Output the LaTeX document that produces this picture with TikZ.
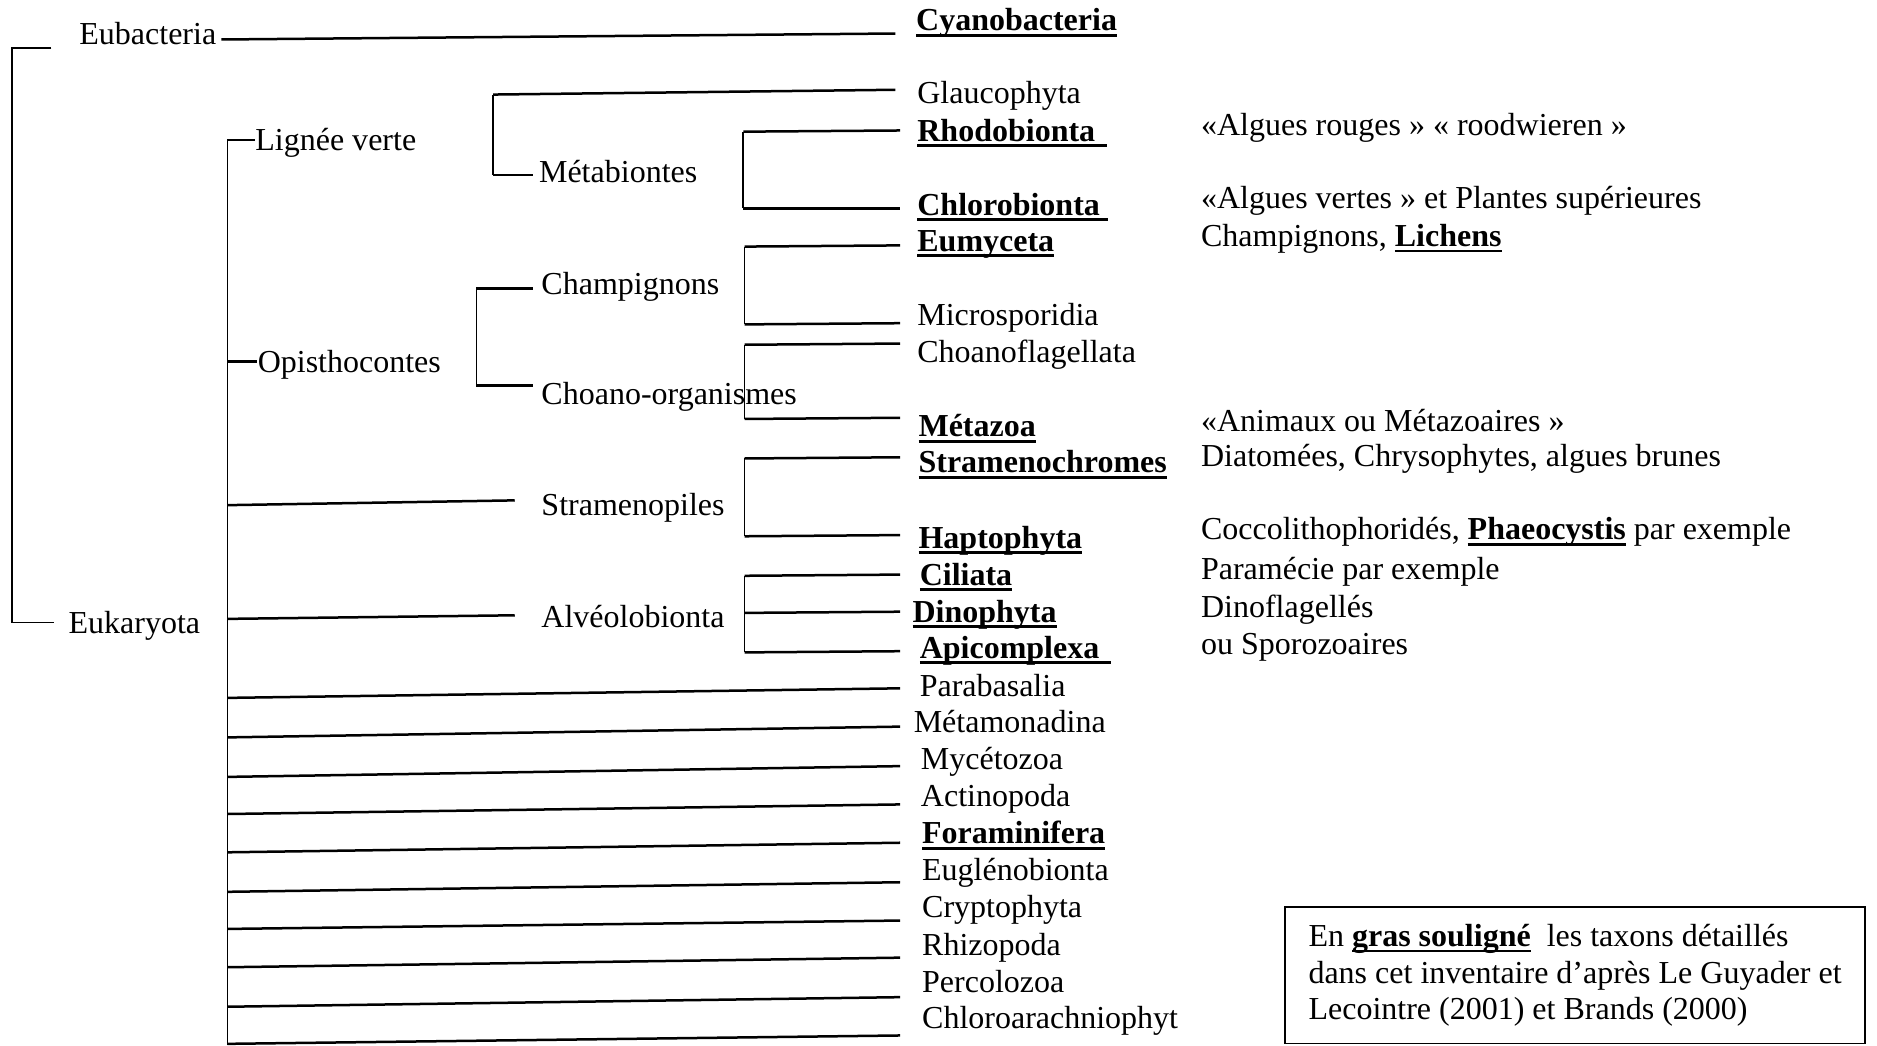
\documentclass[tikz,border=0pt]{standalone}
\usepackage{fontspec}
\setmainfont{Liberation Serif}
\newcommand\ulb[2][0pt]{\setbox0\hbox{\bfseries #2}\rlap{\rule[-3pt]{\dimexpr\wd0+#1\relax}{1.4pt}}\box0\relax}
\begin{document}
\begin{tikzpicture}[x=0.5985pt,y=-0.5985pt,
  font=\fontsize{16}{18.3}\selectfont,
  lbl/.style={anchor=mid west, inner sep=0pt, yshift=-3pt},
  hl/.style={line width=1.25pt},
  vl/.style={line width=0.9pt}]
\useasboundingbox[fill=white] (0,0) rectangle (1568,873);

% ---- labels ----
\node[lbl] (eubac) at (66,28) {Eubacteria};
\node[lbl] (euk) at (57,520) {Eukaryota};
\node[lbl] (cyano) at (765,17) {\ulb{Cyanobacteria}};
\node[lbl] (lignee) at (213,117) {Lignée verte};
\node[lbl] (metab) at (450,144) {Métabiontes};
\node[lbl] (glau) at (766,78) {Glaucophyta};
\node[lbl] (rhodo) at (766,109) {\ulb[6pt]{Rhodobionta}};
\node[lbl] (chloro) at (766,171) {\ulb[4pt]{Chlorobionta}};
\node[lbl] (opis) at (215,302) {Opisthocontes};
\node[lbl] (champ) at (452,237) {Champignons};
\node[lbl] (choano) at (452,329) {Choano-organismes};
\node[lbl] (eumy) at (766,201) {\ulb{Eumyceta}};
\node[lbl] (micro) at (766,263) {Microsporidia};
\node[lbl] (choanof) at (766,294) {Choanoflagellata};
\node[lbl] (metaz) at (767,356) {\ulb{Métazoa}};
\node[lbl] (stra) at (452,422) {Stramenopiles};
\node[lbl] (strachr) at (767,386) {\ulb{Stramenochromes}};
\node[lbl] (hapto) at (767,449) {\ulb{Haptophyta}};
\node[lbl] (alv) at (452,515) {Alvéolobionta};
\node[lbl] (cili) at (768,480) {\ulb{Ciliata}};
\node[lbl] (dino) at (762,511) {\ulb{Dinophyta}};
\node[lbl] (apic) at (768,541) {\ulb[6pt]{Apicomplexa}};
\node[lbl] (para) at (768,573) {Parabasalia};
\node[lbl] (metam) at (763,603) {Métamonadina};
\node[lbl] (myce) at (769,634) {Mycétozoa};
\node[lbl] (actino) at (769,665) {Actinopoda};
\node[lbl] (fora) at (770,696) {\ulb{Foraminifera}};
\node[lbl] (eugl) at (770,727) {Euglénobionta};
\node[lbl] (crypto) at (770,758) {Cryptophyta};
\node[lbl] (rhizo) at (770,789) {Rhizopoda};
\node[lbl] (perco) at (770,820) {Percolozoa};
\node[lbl] (chlara) at (770,850) {Chloroarachniophyt};

% ---- descriptions ----
\node[lbl] (d1) at (1003,104) {«Algues rouges » « roodwieren »};
\node[lbl] (d2) at (1003,165) {«Algues vertes » et Plantes supérieures};
\node[lbl] (d3) at (1003,197) {Champignons, \ulb{Lichens}};
\node[lbl] (d4) at (1003,352) {«Animaux ou Métazoaires »};
\node[lbl] (d5) at (1003,381) {Diatomées, Chrysophytes, algues brunes};
\node[lbl] (d6) at (1003,442) {Coccolithophoridés, \ulb{Phaeocystis} par exemple};
\node[lbl] (d7) at (1003,475) {Paramécie par exemple};
\node[lbl] (d8) at (1003,507) {Dinoflagellés};
\node[lbl] (d9) at (1003,538) {ou Sporozoaires};

% ---- legend box ----
\node[draw, line width=0.9pt, anchor=north west, minimum width=289.7pt, minimum height=68.2pt,
      align=left, inner sep=0pt] (legend) at (1073,757)
  {En \ulb{gras souligné}\ \ les taxons détaillés\\
   dans cet inventaire d’après Le Guyader et\\
   Lecointre (2001) et Brands (2000)};

% ---- junction coordinates ----
\coordinate (root) at (10,40);
\coordinate (rootb) at (10,520);
\coordinate (trunkT) at (190,117);
\coordinate (trunkB) at (190,873);
\coordinate (lvT) at (412,79);
\coordinate (lvB) at (412,146);
\coordinate (mbT) at (621,110);
\coordinate (mbB) at (621,174);
\coordinate (opT) at (398,241);
\coordinate (opB) at (398,322);
\coordinate (chT) at (622,206);
\coordinate (chB) at (622,271);
\coordinate (coT) at (622,288);
\coordinate (coB) at (622,350);
\coordinate (stT) at (622,383);
\coordinate (stB) at (622,448);
\coordinate (alT) at (622,481);
\coordinate (alM) at (622,512);
\coordinate (alB) at (622,545);

% ---- root bracket ----
\draw[vl] (43,40) -- (root) -- (rootb) -- (45,520);
\draw[hl] (185,33) -- (748,28);

% ---- Eukaryota trunk ----
\draw[vl] (trunkT) -- (trunkB);
\draw[hl] (trunkT) -- (lignee.west |- trunkT);
\draw[hl] (190,302) -- (opis.west |- 0,302);
\draw[hl] (190,422) -- (430,418);
\draw[hl] (190,517) -- (430,514);

% Lignée verte
\draw[vl] (lvT) -- (lvB);
\draw[hl] (lvT) -- (748,75);
\draw[hl] (lvB) -- (445,146);
\draw[vl] (mbT) -- (mbB);
\draw[hl] (mbT) -- (752,109);
\draw[hl] (mbB) -- (752,174);

% Opisthocontes
\draw[vl] (opT) -- (opB);
\draw[hl] (opT) -- (445,241);
\draw[hl] (opB) -- (445,322);
\draw[vl] (chT) -- (chB);
\draw[hl] (chT) -- (752,205);
\draw[hl] (chB) -- (752,270);
\draw[vl] (coT) -- (coB);
\draw[hl] (coT) -- (752,287);
\draw[hl] (coB) -- (752,349);

% Stramenopiles
\draw[vl] (stT) -- (stB);
\draw[hl] (stT) -- (752,382);
\draw[hl] (stB) -- (752,447);

% Alveolobionta
\draw[vl] (alT) -- (alB);
\draw[hl] (alT) -- (752,480);
\draw[hl] (alM) -- (752,511);
\draw[hl] (alB) -- (752,544);

% bottom lineages
\draw[hl] (190,583) -- (752,575);
\draw[hl] (190,616) -- (752,607);
\draw[hl] (190,649) -- (752,640);
\draw[hl] (190,680) -- (752,672);
\draw[hl] (190,712) -- (752,704);
\draw[hl] (190,745) -- (752,737);
\draw[hl] (190,776) -- (752,769);
\draw[hl] (190,808) -- (752,800);
\draw[hl] (190,841) -- (752,833);
\draw[hl] (190,872) -- (752,865);
\end{tikzpicture}
\end{document}
